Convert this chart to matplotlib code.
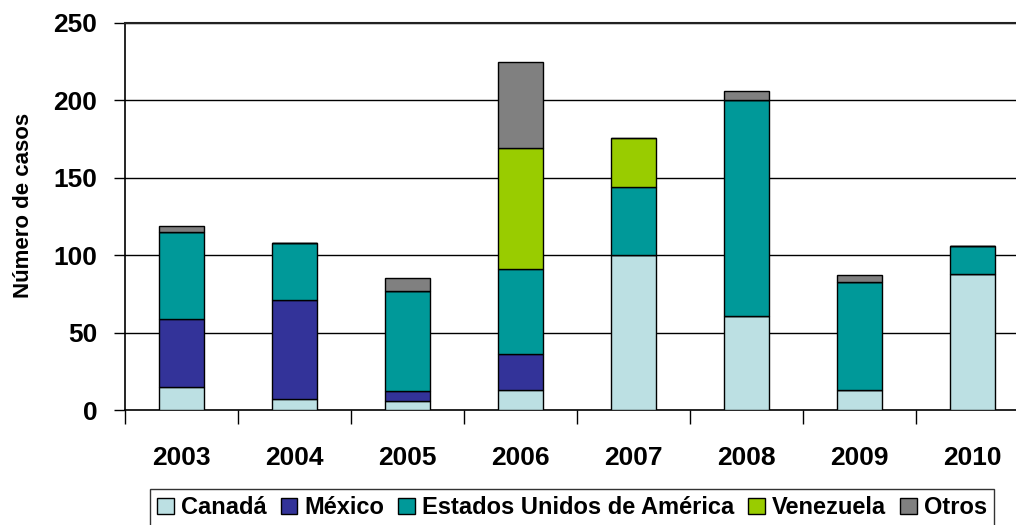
import matplotlib
matplotlib.use("Agg")
import matplotlib.pyplot as plt
import numpy as np

years = ["2003", "2004", "2005", "2006", "2007", "2008", "2009", "2010"]
canada = [15, 7, 6, 13, 100, 61, 13, 88]
mexico = [44, 64, 6, 23, 0, 0, 0, 0]
eua = [56, 37, 65, 55, 44, 139, 70, 18]
venezuela = [0, 0, 0, 78, 32, 0, 0, 0]
otros = [4, 0, 8, 56, 0, 6, 4, 0]

series_names = ["Canadá", "México", "Estados Unidos de América", "Venezuela", "Otros"]
series_vals = [canada, mexico, eua, venezuela, otros]
colors = ["#BCE0E3", "#333399", "#009999", "#99CC00", "#808080"]
yticks = [0, 50, 100, 150, 200, 250]

plt.rcParams['font.family'] = ['Liberation Sans', 'DejaVu Sans']
plt.rcParams['font.weight'] = 'bold'

fig = plt.figure(figsize=(10.16, 5.25), dpi=100)
ax = fig.add_axes([125/1016, 1-410/525, (1029-125)/1016, (410-23)/525])

x = np.arange(len(years))
bottom = np.zeros(len(years))
handles = []
for name, vals, c in zip(series_names, series_vals, colors):
    vals = np.array(vals, dtype=float)
    h = ax.bar(x, vals, width=0.4, bottom=bottom, color=c, edgecolor='black',
               linewidth=1.0, label=name, zorder=3)
    handles.append(h)
    bottom += vals

ax.set_xlim(-0.5, len(years) - 0.5)
ax.set_ylim(0, 250)
ax.set_yticks(yticks)
ax.set_yticklabels([str(v) for v in yticks], fontsize=19, fontweight='bold')
for v in yticks[1:]:
    ax.axhline(v, color='black', linewidth=1.0, zorder=1)

ax.set_xticks(np.arange(len(years) + 1) - 0.5)
ax.set_xticklabels([])
ax.set_xticks(x, minor=True)
ax.set_xticklabels(years, minor=True, fontsize=19, fontweight='bold')
ax.tick_params(axis='x', which='major', direction='out', length=10, width=1)
ax.tick_params(axis='x', which='minor', length=0, pad=26)
ax.tick_params(axis='y', direction='out', length=8, width=1, pad=12)

ax.spines['right'].set_visible(False)
ax.spines['top'].set_linewidth(1.5)
ax.spines['top'].set_color('#222222')
for s in ['left', 'bottom']:
    ax.spines[s].set_linewidth(1.2)
    ax.spines[s].set_color('black')

ax.set_ylabel("Número de casos", fontsize=16, fontweight='bold')
ax.yaxis.set_label_coords(-0.101, 0.528)

leg = fig.legend(handles=handles, labels=series_names, loc='upper center',
                 bbox_to_anchor=(0.563, 1 - 489/525), ncol=5, frameon=True,
                 fancybox=False, edgecolor='black', fontsize=17,
                 handlelength=0.7, handleheight=0.7, handletextpad=0.3,
                 columnspacing=0.6, borderpad=0.3, borderaxespad=0)
leg.get_frame().set_linewidth(1.0)
for t in leg.get_texts():
    t.set_fontweight('bold')

fig.savefig("out.png", dpi=100)
